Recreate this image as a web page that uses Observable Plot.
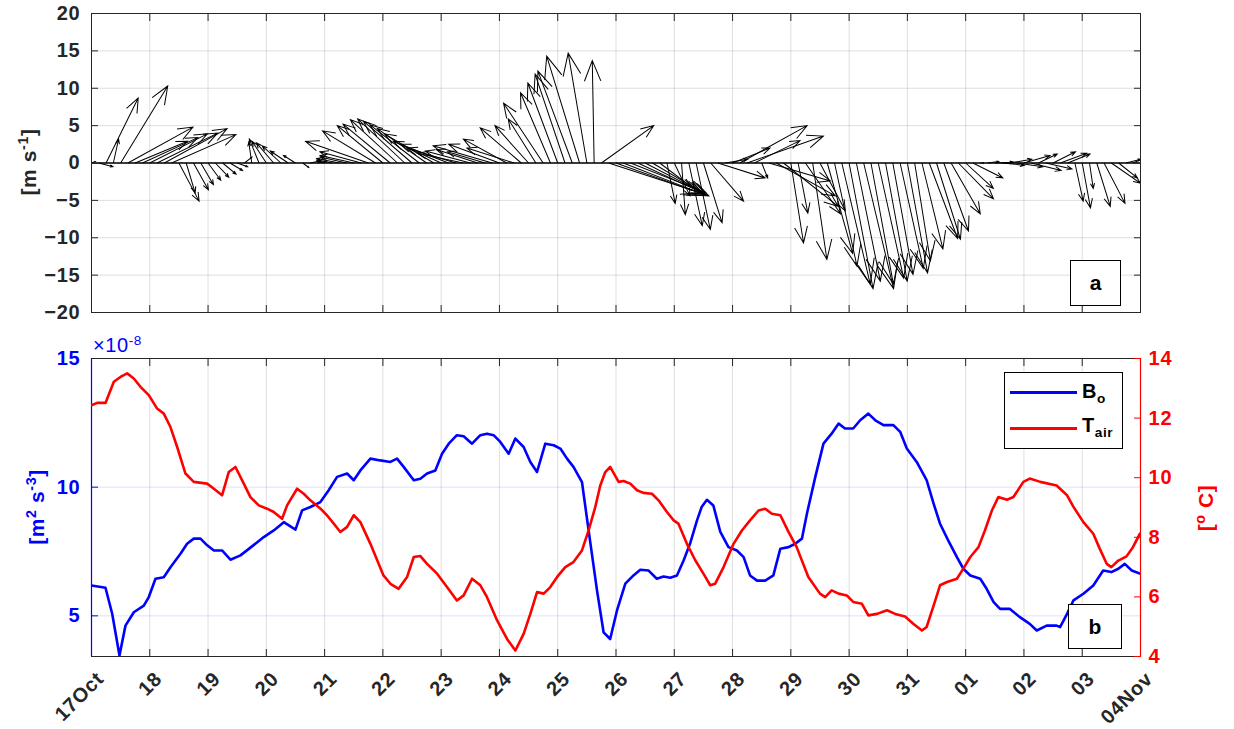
<!DOCTYPE html>
<html>
<head>
<meta charset="utf-8">
<script src="https://cdn.jsdelivr.net/npm/d3@7"></script>
<script src="https://cdn.jsdelivr.net/npm/@observablehq/plot@0.6"></script>
<style>
html,body{margin:0;padding:0;background:#fff;}
#wrap{position:relative;width:1234px;height:729px;overflow:hidden;font-family:"Liberation Sans",Arial,Helvetica,sans-serif;}
#wrap svg{position:absolute;left:0;}
.lbl{position:absolute;white-space:nowrap;font-weight:bold;line-height:1;font-size:21px;letter-spacing:0.6px;}
.rot{transform:translate(-50%,-50%) rotate(-90deg);}
.lbl sup{font-size:0.68em;vertical-align:0.55em;line-height:0;}
.lbl sub{font-size:0.68em;vertical-align:-0.38em;line-height:0;}
.box{position:absolute;border:1.5px solid #000;background:#fff;box-sizing:border-box;}
.abox{display:flex;align-items:center;justify-content:center;font-weight:bold;font-size:21px;color:#000;}
.lline{position:absolute;height:3px;}
</style>
</head>
<body>
<div id="wrap"></div>
<script>
// ---------------- data ----------------
const dayTicks = [0,1,2,3,4,5,6,7,8,9,10,11,12,13,14,15,16,17,18];
const dayLabels = ["17Oct","18","19","20","21","22","23","24","25","26","27","28","29","30","31","01","02","03","04Nov"];
const windTicks = [-20,-15,-10,-5,0,5,10,15,20];
const boTicks = [5,10,15];
const tairTicks = [4,6,8,10,12,14];

// wind, 3-hourly from 17 Oct 00:00 (hours)
const windHour = [0,3,6,9,12,15,18,21,24,27,30,33,36,39,42,45,48,51,54,57,60,63,66,69,72,75,78,81,84,87,90,93,96,99,102,105,108,111,114,117,120,123,126,129,132,135,138,141,144,147,150,153,156,159,162,165,168,171,174,177,180,183,186,189,192,195,198,201,204,207,210,213,216,219,222,225,228,231,234,237,240,243,246,249,252,255,258,261,264,267,270,273,276,279,282,285,288,291,294,297,300,303,306,309,312,315,318,321,324,327,330,333,336,339,342,345,348,351,354,357,360,363,366,369,372,375,378,381,384,387,390,393,396,399,402,405,408,411,414,417,420,423,426,429];
// eastward component (m/s)
const windU = [0.5,1.9,4.3,0.7,6.3,8.7,7.0,7.4,7.7,8.1,
  8.4,8.6,2.7,1.2,2.0,1.7,1.7,1.8,1.8,1.7,
  1.4,1.0,-0.4,-1.3,-1.9,-2.3,-2.5,-2.4,-1.6,0.8,
  1.5,1.2,-1.0,-2.0,-3.0,-3.5,-4.5,-5.5,-8.4,-7.1,
  -6.1,-6.3,-6.3,-6.3,-6.5,-6.6,-6.6,-6.6,-6.4,-6.4,
  -6.5,-6.1,-6.0,-5.5,-5.0,-7.9,-6.8,-5.8,-6.3,-5.5,
  -4.5,-3.7,-5.3,-4.0,-4.0,-4.0,-4.6,-4.4,-2.5,-0.25,
  7.0,12.3,11.7,11.0,10.1,9.5,8.1,6.4,4.1,1.1,
  2.1,0.5,1.8,1.9,2.5,4.4,6.3,3.0,5.0,9.0,
  10.2,6.1,0.8,8.2,7.9,7.3,1.7,1.3,4.7,1.9,
  3.4,3.4,3.0,3.8,3.2,3.2,4.0,3.0,3.4,2.9,
  2.7,3.1,2.7,2.1,2.8,3.8,3.2,3.3,3.9,4.7,
  3.7,4.0,0.5,1.5,2.5,3.0,3.0,3.5,3.5,4.0,
  2.5,3.5,3.0,3.5,3.0,1.1,1.1,0.5,1.8,2.8,
  3.9,2.5,2.0,1.5];
// northward component (m/s)
const windV = [0.2,-0.5,8.7,3.2,10.3,4.8,2.9,3.4,3.9,4.0,
  4.6,3.8,-5.1,-4.0,-3.6,-2.9,-2.3,-1.9,-1.5,-1.0,
  -0.5,0.8,2.8,3.2,2.9,2.7,2.3,1.6,1.0,-0.6,
  0.3,0.2,0.3,0.4,0.6,0.8,1.0,1.5,2.9,4.3,
  5.0,5.2,5.8,5.9,5.6,5.1,4.6,3.9,2.9,2.5,
  2.0,1.3,1.6,1.8,1.5,2.3,2.5,3.2,2.0,4.7,
  5.0,5.9,8.0,9.4,10.7,11.9,12.3,14.3,14.7,13.7,
  5.0,-4.0,-4.2,-4.3,-4.0,-4.4,-4.2,-3.8,-3.1,-5.4,
  -4.4,-6.9,-8.4,-8.9,-8.0,-5.1,-2.0,0.5,2.0,5.0,
  3.6,3.0,-2.0,-2.4,-4.4,-5.8,-10.7,-6.7,-6.8,-12.9,
  -6.4,-12.1,-13.8,-16.2,-16.8,-15.8,-16.8,-16.2,-15.4,-15.8,
  -14.9,-14.1,-14.7,-13.1,-11.5,-10.1,-10.2,-9.1,-6.8,-4.8,
  -3.4,-2.0,0.0,0.2,0.1,-0.3,0.5,-0.5,1.0,-1.0,
  1.2,-0.8,1.5,1.3,1.2,-5.1,-6.0,-3.4,-5.8,-5.4,
  -2.7,-2.0,0.5,0.7];

// buoyancy flux B_o (x1e-8 m^2 s^-3), days since 17 Oct
const boDay = [0,0.24,0.355,0.48,0.583,0.726,0.898,0.983,1.098,1.24,
  1.355,1.527,1.64,1.755,1.87,1.985,2.1,2.24,2.384,2.556,
  2.727,2.956,3.127,3.3,3.5,3.614,3.756,3.928,4.07,4.214,
  4.386,4.5,4.614,4.786,4.957,5.129,5.243,5.36,5.53,5.643,
  5.758,5.9,6.015,6.13,6.27,6.386,6.53,6.672,6.787,6.9,
  7.015,7.158,7.273,7.415,7.53,7.645,7.787,7.93,8.045,8.16,
  8.273,8.416,8.53,8.674,8.787,8.9,9.017,9.16,9.3,9.417,
  9.56,9.7,9.817,9.93,10.046,10.16,10.27,10.39,10.47,10.56,
  10.67,10.79,10.93,11.075,11.19,11.3,11.42,11.56,11.7,11.82,
  11.96,12.075,12.19,12.276,12.42,12.56,12.7,12.82,12.93,13.07,
  13.19,13.33,13.45,13.59,13.76,13.876,13.99,14.16,14.33,14.45,
  14.56,14.7,14.85,14.96,15.08,15.25,15.36,15.48,15.59,15.76,
  15.93,16.1,16.22,16.39,16.56,16.62,16.74,16.85,17.02,17.19,
  17.36,17.5,17.62,17.73,17.85,18.0];
const boVal = [6.18,6.09,5.08,3.46,4.62,5.14,5.40,5.73,6.44,6.50,
  6.89,7.41,7.80,8.0,8.0,7.74,7.54,7.54,7.18,7.35,
  7.65,8.06,8.32,8.64,8.35,9.10,9.23,9.42,9.88,10.40,
  10.53,10.27,10.65,11.11,11.04,10.98,11.11,10.78,10.27,10.33,
  10.53,10.65,11.30,11.69,12.02,11.98,11.69,12.02,12.08,12.02,
  11.76,11.30,11.89,11.56,10.98,10.59,11.69,11.63,11.50,11.11,
  10.78,10.20,8.32,5.99,4.36,4.10,5.21,6.25,6.57,6.79,
  6.76,6.44,6.53,6.48,6.57,7.15,7.80,8.71,9.23,9.51,
  9.29,8.26,7.67,7.54,7.28,6.57,6.37,6.37,6.57,7.61,
  7.67,7.80,8.0,8.97,10.40,11.69,12.08,12.47,12.28,12.28,
  12.60,12.86,12.60,12.41,12.41,12.15,11.50,10.98,10.27,9.36,
  8.58,7.93,7.28,6.83,6.57,6.44,6.05,5.53,5.27,5.27,
  4.95,4.69,4.43,4.62,4.62,4.56,5.08,5.60,5.86,6.18,
  6.76,6.70,6.83,7.02,6.76,6.63];

// air temperature (deg C), days since 17 Oct
const tairDay = [0,0.097,0.24,0.383,0.497,0.612,0.726,0.84,0.983,1.126,
  1.24,1.355,1.47,1.612,1.755,1.984,2.1,2.24,2.355,2.47,
  2.613,2.727,2.87,3.013,3.127,3.27,3.356,3.528,3.642,3.756,
  3.93,4.04,4.157,4.27,4.386,4.5,4.614,4.786,5.01,5.13,
  5.27,5.415,5.53,5.643,5.758,5.93,6.1,6.27,6.386,6.53,
  6.672,6.787,6.96,7.13,7.273,7.415,7.53,7.645,7.76,7.873,
  7.99,8.13,8.27,8.416,8.53,8.645,8.73,8.816,8.9,9.045,
  9.13,9.245,9.36,9.47,9.617,9.73,9.874,9.99,10.07,10.217,
  10.36,10.5,10.617,10.7,10.846,11.017,11.16,11.3,11.446,11.56,
  11.675,11.82,11.96,12.1,12.3,12.5,12.59,12.7,12.82,12.96,
  13.07,13.22,13.33,13.48,13.65,13.79,13.96,14.1,14.25,14.33,
  14.45,14.56,14.68,14.85,14.96,15.08,15.22,15.33,15.45,15.56,
  15.71,15.82,15.99,16.1,16.28,16.56,16.74,16.85,17.02,17.19,
  17.3,17.42,17.5,17.62,17.76,17.87,17.99];
const tairVal = [12.43,12.51,12.51,13.22,13.38,13.50,13.33,13.05,12.77,12.32,
  12.15,11.70,11.03,10.14,9.86,9.80,9.63,9.41,10.19,10.36,
  9.80,9.35,9.07,8.96,8.85,8.62,9.07,9.63,9.46,9.24,
  8.96,8.74,8.46,8.18,8.35,8.74,8.51,7.78,6.72,6.44,
  6.27,6.67,7.34,7.37,7.11,6.78,6.33,5.88,6.05,6.61,
  6.39,5.99,5.21,4.59,4.20,4.76,5.43,6.16,6.11,6.33,
  6.67,7.00,7.17,7.56,8.23,9.02,9.74,10.19,10.36,9.86,
  9.89,9.80,9.58,9.49,9.46,9.24,8.85,8.57,8.46,7.78,
  7.23,6.78,6.39,6.44,7.00,7.78,8.23,8.57,8.90,8.96,
  8.79,8.74,8.18,7.67,6.67,6.11,5.99,6.22,6.11,6.05,
  5.83,5.77,5.38,5.43,5.55,5.43,5.34,5.10,4.87,4.99,
  5.71,6.39,6.50,6.61,6.95,7.34,7.67,8.23,8.90,9.35,
  9.26,9.35,9.86,9.97,9.86,9.74,9.41,9.02,8.51,8.12,
  7.62,7.11,7.0,7.22,7.36,7.67,8.12];

// ---------------- build ----------------
const wind = windHour.map((h, i) => ({t: h / 24, u: windU[i], v: windV[i]}));
const bo = boDay.map((d, i) => ({t: d, v: boVal[i]}));
const tair = tairDay.map((d, i) => ({t: d, v: tairVal[i]}));

const W = 1234, ML = 91, MR = 94;
const TOP_H = 330, TOP_MT = 13, TOP_MB = 18;
const BOT_H = 399, BOT_MT = 28, BOT_MB = 73;
const pxPerMs = (TOP_H - TOP_MT - TOP_MB) / 40;
const FONT = '"Liberation Sans", Arial, Helvetica, sans-serif';
const DARK = "#262626";
const baseStyle = {background: "transparent", fontFamily: FONT, fontSize: "20px", fontWeight: "bold", color: DARK, overflow: "visible", letterSpacing: "0.8px"};
const gridStyle = {stroke: DARK, strokeOpacity: 0.15, strokeWidth: 1};
const blank = () => "";

// MATLAB-like quiver arrow: shaft + narrow head proportional to length
const quiverShape = {
  draw(ctx, l) {
    const h = 0.2 * l, w = 0.4 * h;
    ctx.moveTo(0, 0); ctx.lineTo(0, -l);
    ctx.moveTo(-w, h - l); ctx.lineTo(0, -l); ctx.lineTo(w, h - l);
  }
};

const topPlot = Plot.plot({
  width: W, height: TOP_H,
  marginLeft: ML, marginRight: MR, marginTop: TOP_MT, marginBottom: TOP_MB,
  style: baseStyle,
  x: {domain: [0, 18]},
  y: {domain: [-20, 20]},
  length: {domain: [0, 20], range: [0, 20 * pxPerMs]},
  marks: [
    Plot.gridX(dayTicks, gridStyle),
    Plot.gridY(windTicks, gridStyle),
    Plot.ruleY([0], {stroke: "#000", strokeWidth: 1.3}),
    Plot.vector(wind, {
      x: "t", y: () => 0,
      length: d => Math.hypot(d.u, d.v),
      rotate: d => Math.atan2(d.u, d.v) * 180 / Math.PI,
      anchor: "start", shape: quiverShape,
      stroke: "#000", strokeWidth: 1, strokeLinecap: "butt", strokeLinejoin: "miter", clip: true
    }),
    Plot.axisY(windTicks, {anchor: "left", tickSize: -7, tickPadding: 18, label: null, color: DARK}),
    Plot.axisY(windTicks, {anchor: "right", tickSize: -7, tickFormat: blank, label: null, color: DARK}),
    Plot.axisX(dayTicks, {anchor: "bottom", tickSize: -7, tickFormat: blank, label: null, color: DARK}),
    Plot.axisX(dayTicks, {anchor: "top", tickSize: -7, tickFormat: blank, label: null, color: DARK}),
    Plot.frame({stroke: DARK, strokeWidth: 1})
  ]
});

const boPlot = Plot.plot({
  width: W, height: BOT_H,
  marginLeft: ML, marginRight: MR, marginTop: BOT_MT, marginBottom: BOT_MB,
  style: baseStyle,
  x: {domain: [0, 18]},
  y: {domain: [3.42, 15]},
  marks: [
    Plot.gridX(dayTicks, gridStyle),
    Plot.gridY(boTicks, {stroke: "#0000ff", strokeOpacity: 0.13, strokeWidth: 1}),
    Plot.line(bo, {x: "t", y: "v", stroke: "#0000ff", strokeWidth: 2.6, clip: true}),
    Plot.axisY(boTicks, {anchor: "left", tickSize: -7, tickPadding: 18, label: null, color: "#0000ff"}),
    Plot.axisX(dayTicks, {anchor: "bottom", tickSize: -7, tickFormat: blank, label: null, color: DARK}),
    Plot.axisX(dayTicks, {anchor: "bottom", tickSize: 0, tickPadding: 19, tickRotate: -45, dx: 9,
      tickFormat: d => dayLabels[d], label: null, color: DARK, letterSpacing: "0.4px"}),
    Plot.axisX(dayTicks, {anchor: "top", tickSize: -7, tickFormat: blank, label: null, color: DARK}),
    Plot.frame({stroke: DARK, strokeWidth: 1}),
    Plot.ruleX([0], {stroke: "#0000ff", strokeWidth: 1.2})
  ]
});

const tPlot = Plot.plot({
  width: W, height: BOT_H,
  marginLeft: ML, marginRight: MR, marginTop: BOT_MT, marginBottom: BOT_MB,
  style: baseStyle,
  x: {domain: [0, 18], axis: null},
  y: {domain: [4, 14]},
  marks: [
    Plot.line(tair, {x: "t", y: "v", stroke: "#ff0000", strokeWidth: 2.6, clip: true}),
    Plot.axisY(tairTicks, {anchor: "right", tickSize: -7, tickPadding: 15, label: null, color: "#ff0000"}),
    Plot.ruleX([18], {stroke: "#ff0000", strokeWidth: 1.2})
  ]
});

const wrap = document.getElementById("wrap");
topPlot.style.top = "0px";
boPlot.style.top = TOP_H + "px";
tPlot.style.top = TOP_H + "px";
wrap.appendChild(topPlot);
wrap.appendChild(boPlot);
wrap.appendChild(tPlot);

function addHTML(html) {
  const t = document.createElement("template");
  t.innerHTML = html.trim();
  wrap.appendChild(t.content.firstChild);
}
// axis labels
addHTML('<div class="lbl rot" style="left:28px;top:162px;color:#262626">[m s<sup>-1</sup>]</div>');
addHTML('<div class="lbl rot" style="left:36px;top:507px;color:#0000ff">[m<sup>2</sup> s<sup>-3</sup>]</div>');
addHTML('<div class="lbl rot" style="left:1205px;top:508px;color:#ff0000">[<sup>o</sup> C]</div>');
addHTML('<div class="lbl" style="left:93px;top:335px;color:#0000ff;font-weight:normal;font-size:20px">×10<sup>-8</sup></div>');
// legend
addHTML('<div class="box" style="left:1004px;top:372px;width:119px;height:77px"></div>');
addHTML('<div class="lline" style="left:1010px;top:391px;width:67px;background:#0000ff"></div>');
addHTML('<div class="lline" style="left:1010px;top:427px;width:67px;background:#ff0000"></div>');
addHTML('<div class="lbl" style="left:1082px;top:381px;color:#000;font-size:20px">B<sub>o</sub></div>');
addHTML('<div class="lbl" style="left:1082px;top:415px;color:#000;font-size:20px">T<sub>air</sub></div>');
// panel letters
addHTML('<div class="box abox" style="left:1070px;top:260px;width:51px;height:46px">a</div>');
addHTML('<div class="box abox" style="left:1068px;top:604px;width:54px;height:45px">b</div>');
</script>
</body>
</html>
